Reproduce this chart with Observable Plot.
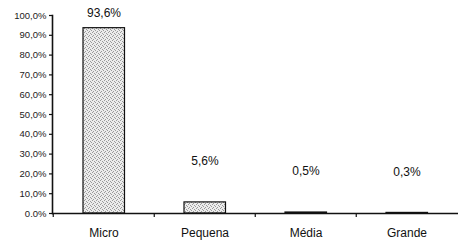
<!DOCTYPE html>
<html>
<head>
<meta charset="utf-8">
<script src="https://cdn.jsdelivr.net/npm/d3@7"></script>
<script src="https://cdn.jsdelivr.net/npm/@observablehq/plot@0.6"></script>
<style>
  html, body { margin: 0; padding: 0; background: #fff; }
  svg { font-family: "Liberation Sans", sans-serif; }
</style>
</head>
<body>
<div id="chart"></div>
<script>
const categories = ["Micro", "Pequena", "Média", "Grande"];
const values = [93.6, 5.6, 0.5, 0.3];
const valueLabels = ["93,6%", "5,6%", "0,5%", "0,3%"];
const yTicks = [0, 10, 20, 30, 40, 50, 60, 70, 80, 90, 100];
const yTickLabels = ["0.0%", "10,0%", "20,0%", "30,0%", "40,0%", "50,0%", "60,0%", "70,0%", "80,0%", "90,0%", "100,0%"];

const data = categories.map((c, i) => ({cat: c, value: values[i], label: valueLabels[i]}));
const big = data.filter(d => d.value > 50);
const small = data.filter(d => d.value <= 50);

const W = 458, H = 240;
const bandW = (W - 52) / categories.length;

const chart = Plot.plot({
  width: W,
  height: H,
  marginLeft: 52,
  marginRight: 0,
  marginTop: 15,
  marginBottom: 27,
  x: {domain: categories, padding: 0, label: null},
  y: {domain: [0, 100], label: null},
  style: {fontFamily: "Liberation Sans, sans-serif", color: "#111", background: "#fff"},
  marks: [
    Plot.barY(data, {x: "cat", y: "value", fill: "url(#stipple)", stroke: "#111", strokeWidth: 1.2, insetLeft: 30, insetRight: 29.5}),
    Plot.axisY({ticks: yTicks, tickFormat: d => yTickLabels[yTicks.indexOf(d)], tickSize: 3, tickPadding: 3, fontSize: 9.5, letterSpacing: 0.9, strokeWidth: 1.2, fill: "#222", label: null}),
    Plot.axisX({tickSize: 4, dx: -bandW / 2, tickFormat: () => "", strokeWidth: 1.2, label: null}),
    Plot.axisX({tickSize: 0, tickPadding: 15, fontSize: 12, label: null}),
    Plot.frame({anchor: "left", stroke: "#111", strokeWidth: 1.6}),
    Plot.ruleY([0], {stroke: "#111", strokeWidth: 1.6}),
    Plot.text(big, {x: "cat", y: "value", text: "label", dy: -15, fontSize: 12, fill: "#111"}),
    Plot.text(small, {x: "cat", y: "value", text: "label", dy: -41, fontSize: 12, fill: "#111"})
  ]
});

// stipple pattern for bars
const ns = "http://www.w3.org/2000/svg";
const defs = document.createElementNS(ns, "defs");
const pat = document.createElementNS(ns, "pattern");
pat.setAttribute("id", "stipple");
pat.setAttribute("patternUnits", "userSpaceOnUse");
pat.setAttribute("width", "4");
pat.setAttribute("height", "4");
const bg = document.createElementNS(ns, "rect");
bg.setAttribute("width", "4"); bg.setAttribute("height", "4"); bg.setAttribute("fill", "#ececec");
pat.appendChild(bg);
[[0,0],[2,1],[1,3],[3,2]].forEach(([px, py]) => {
  const r = document.createElementNS(ns, "rect");
  r.setAttribute("x", px); r.setAttribute("y", py);
  r.setAttribute("width", "1"); r.setAttribute("height", "1");
  r.setAttribute("fill", "#9a9a9a");
  pat.appendChild(r);
});
defs.appendChild(pat);
chart.insertBefore(defs, chart.firstChild);

document.getElementById("chart").appendChild(chart);
</script>
</body>
</html>
